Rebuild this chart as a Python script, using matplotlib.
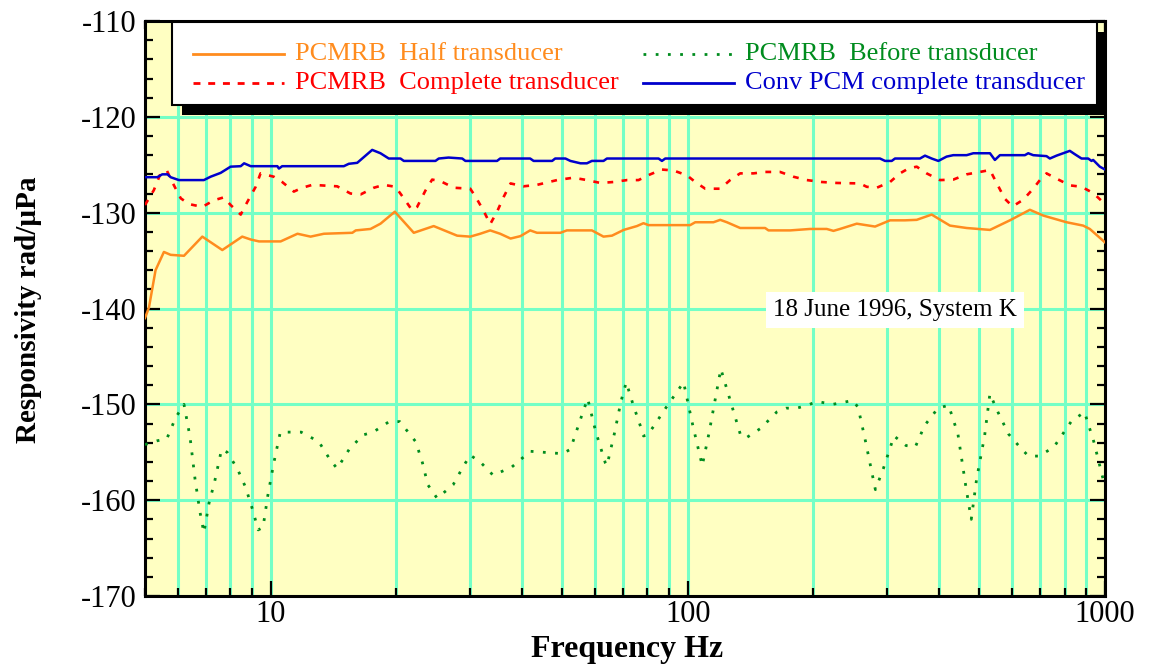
import matplotlib
matplotlib.use('Agg')
import matplotlib.pyplot as plt
from matplotlib.patches import Rectangle
from matplotlib.ticker import FixedLocator, LogLocator, MultipleLocator, NullFormatter

plt.rcParams['font.family'] = ['Liberation Serif', 'DejaVu Serif']
plt.rcParams['axes.unicode_minus'] = False

#PCMRB half transducer (orange, solid)
half_f = [5.0, 5.11, 5.30, 5.55, 5.76, 6.20, 6.86, 7.66, 8.55, 8.96, 9.38, 10.57, 11.6, 12.47, 13.42,
          15.7, 16.0, 17.36, 18.34, 19.85, 22.04, 24.6, 28.0, 30.1, 31.8, 33.6, 35.5, 37.6, 39.7, 41.9,
          43.5, 49.5, 51.3, 58.9, 62.8, 65.8, 70.2, 75.5, 78.3, 80.5, 101.3, 104.2, 115.2, 119.6, 124.1,
          133.5, 153.2, 156.1, 176, 196.4, 215.3, 223.4, 231.7, 254.1, 281.1, 305.3, 331.6, 353.7, 384.2,
          425, 466, 530, 591.6, 660.6, 711, 808.8, 886.5, 919.6, 1000]
half_db = [-141.0, -139.9, -136.0, -134.1, -134.4, -134.5, -132.5, -133.9, -132.5, -132.8, -133.0, -133.0,
           -132.2, -132.5, -132.2, -132.1, -131.85, -131.7, -131.15, -129.9, -132.1, -131.4, -132.4, -132.5,
           -132.2, -131.85, -132.2, -132.7, -132.45, -131.85, -132.1, -132.1, -131.85, -131.85, -132.5,
           -132.4, -131.8, -131.4, -131.1, -131.3, -131.3, -131.0, -131.0, -130.75, -131.0, -131.6, -131.6,
           -131.85, -131.85, -131.7, -131.7, -131.9, -131.7, -131.15, -131.45, -130.8, -130.8, -130.75,
           -130.2, -131.35, -131.6, -131.8, -130.8, -129.7, -130.3, -131.0, -131.35, -131.7, -133.1]

#PCMRB complete transducer (red, dashed)
comp_f = [5.0, 5.25, 5.45, 5.64, 5.81, 6.09, 6.37, 6.86, 7.32, 7.73, 8.02, 8.48, 8.79, 9.21, 9.46, 10.18,
          10.66, 11.37, 11.91, 12.59, 14.44, 15.54, 16.43, 17.68, 18.68, 19.92, 20.86, 21.84, 22.45, 23.5,
          24.39, 25.5, 27.5, 30.1, 31.0, 32.4, 33.6, 34.9, 36.2, 37.6, 40.4, 43.5, 48.6, 53.2, 57.3, 61.7,
          66.4, 71.5, 76.2, 81.3, 86.7, 92.4, 99.5, 104.2, 110.1, 119.6, 126.3, 133.5, 143.7, 153.2, 166.4,
          179.1, 192.9, 209.5, 227.5, 258.7, 268.4, 283.7, 305.3, 322.5, 337.7, 353.7, 373.7, 402.2, 432.8,
          466, 501.4, 530, 549.7, 575.4, 600.4, 636.7, 672.9, 698.1, 724.1, 765.3, 823.6, 878.5, 936.8, 1000]
comp_db = [-129.2, -127.65, -125.9, -125.6, -126.8, -128.5, -129.1, -129.4, -128.7, -128.4, -129.2, -130.2,
           -128.9, -127.3, -125.9, -126.25, -126.8, -127.8, -127.4, -127.1, -127.25, -128.0, -128.1, -127.4,
           -127.1, -127.3, -128.5, -129.75, -129.4, -127.7, -126.55, -126.7, -127.4, -127.5, -128.35, -129.8,
           -131.2, -129.9, -128.35, -126.95, -127.25, -127.1, -126.6, -126.35, -126.6, -126.9, -126.8, -126.6,
           -126.6, -126.0, -125.5, -125.6, -126.1, -126.8, -127.5, -127.5, -126.6, -125.9, -125.9, -125.75,
           -125.75, -126.25, -126.6, -126.8, -126.9, -126.95, -127.3, -127.4, -126.8, -125.9, -125.4, -125.2,
           -125.9, -126.6, -126.55, -126.0, -125.75, -125.55, -126.9, -128.55, -129.35, -128.65, -127.5,
           -126.6, -125.9, -126.45, -127.15, -127.3, -127.95, -129.1]

#PCMRB before transducer (green, dotted)
before_f = [5.0, 5.35, 5.64, 5.92, 6.20, 6.41, 6.59, 6.77, 6.92, 7.12, 7.34, 7.63, 7.87, 8.32, 8.71, 9.04,
            9.34, 9.59, 9.85, 10.18, 10.55, 11.84, 13.05, 13.92, 14.44, 15.43, 16.64, 17.62, 19.24, 20.40,
            22.28, 23.12, 23.82, 25.07, 27.38, 29.03, 30.12, 31.95, 34.15, 37.84, 41.94, 50.03, 52.3, 55.46,
            57.54, 60.12, 63.42, 64.0, 66.65, 69.15, 71.2, 73.9, 76.9, 78.3, 80.1, 83.1, 88.8, 97.7, 102.8,
            108.3, 112.3, 120.0, 127.2, 134.0, 138.0, 149.6, 163.4, 172.0, 182.4, 193.5, 203.8, 222.6, 248.5,
            255.9, 265.9, 281.6, 294.3, 312.1, 333.4, 351.0, 369.6, 397.8, 421.8, 444.1, 464.2, 478.0, 492.3,
            514.5, 529.8, 553.7, 587.2, 632.1, 655.8, 695.6, 754.3, 829.7, 892.9, 940.1, 1000]
before_db = [-154.2, -153.8, -153.6, -151.4, -150.0, -153.4, -157.8, -161.2, -163.4, -160.3, -158.1, -154.7,
             -155.0, -156.7, -158.65, -160.9, -163.1, -162.85, -159.5, -156.1, -152.9, -152.9, -153.9, -155.85,
             -156.7, -154.7, -153.2, -152.9, -151.8, -151.8, -153.9, -156.1, -158.4, -159.8, -158.4, -156.4,
             -155.3, -156.1, -157.4, -156.55, -154.9, -155.15, -154.7, -151.4, -149.4, -152.8, -156.1, -156.4,
             -153.1, -149.7, -147.7, -150.0, -152.2, -153.3, -153.2, -152.2, -150.3, -147.7, -152.2, -156.4,
             -153.1, -146.3, -150.0, -153.3, -153.5, -152.5, -150.8, -150.4, -150.4, -150.1, -149.7, -150.0,
             -149.6, -150.3, -153.6, -158.9, -156.7, -153.3, -154.3, -154.45, -152.2, -150.4, -150.1, -153.1,
             -158.65, -162.0, -157.8, -153.3, -148.9, -150.8, -153.1, -154.7, -155.4, -155.4, -154.45, -151.8,
             -150.8, -153.9, -158.6]

#Conv PCM complete transducer (blue, solid)
conv_f = [5.0, 5.35, 5.50, 5.66, 5.76, 6.03, 6.92, 7.18, 7.59, 8.02, 8.48, 8.64, 8.96, 10.38, 10.47, 10.66,
          14.98, 15.40, 16.13, 17.52, 18.34, 19.2, 20.48, 20.86, 24.84, 25.3, 26.7, 28.8, 29.3, 34.9, 35.5,
          41.9, 42.7, 47.3, 48.1, 50.9, 52.3, 55.3, 57.3, 58.9, 62.8, 64.0, 85.1, 86.7, 88.3, 288.9, 297,
          308.2, 313.8, 360.2, 370.3, 384.2, 398.6, 417.2, 432.8, 466, 483.4, 530, 544.6, 560, 642.7, 654.6,
          672.9, 724.1, 737.6, 765.3, 793.9, 823.6, 846.6, 878.5, 911.3, 928.2, 936.8, 971.8, 1000]
conv_db = [-126.3, -126.3, -126.0, -126.0, -126.3, -126.6, -126.6, -126.25, -125.85, -125.2, -125.15, -124.85,
           -125.15, -125.15, -125.4, -125.15, -125.15, -124.9, -124.8, -123.45, -123.8, -124.35, -124.35,
           -124.6, -124.6, -124.35, -124.25, -124.35, -124.6, -124.6, -124.35, -124.35, -124.6, -124.6,
           -124.35, -124.35, -124.6, -124.85, -124.85, -124.6, -124.6, -124.35, -124.35, -124.6, -124.35,
           -124.35, -124.6, -124.6, -124.35, -124.35, -124.05, -124.35, -124.6, -124.15, -124.0, -124.0,
           -123.8, -123.8, -124.5, -124.0, -124.0, -123.8, -124.0, -124.1, -124.35, -124.05, -123.8, -123.55,
           -123.9, -124.35, -124.35, -124.6, -124.5, -125.2, -125.5]

legend_labels = ['PCMRB  Half transducer', 'PCMRB  Complete transducer',
                 'PCMRB  Before transducer', 'Conv PCM complete transducer']
note_text = '18 June 1996, System K'

c_orange = '#FF8C1E'
c_red = '#FF0000'
c_green = '#008C1E'
c_blue = '#0000CC'
c_grid = '#74FFC6'

fig = plt.figure(figsize=(11.56, 6.67), dpi=100)
ax = fig.add_axes([145/1156, 1 - 596/667, 960/1156, 575/667])
ax.set_facecolor('#FFFFC2')

ax.plot(half_f, half_db, color=c_orange, lw=1.8, zorder=3)
ax.plot(comp_f, comp_db, color=c_red, lw=1.9, linestyle=(0, (2.2, 3.2)), zorder=3)
ax.plot(before_f, before_db, color=c_green, lw=2.0, linestyle=(0, (1, 3.4)), zorder=3)
ax.plot(conv_f, conv_db, color=c_blue, lw=1.8, zorder=3)

ax.set_xscale('log')
ax.set_xlim(5, 1000)
ax.set_ylim(-170, -110)

ax.xaxis.set_major_locator(FixedLocator([10, 100, 1000]))
ax.xaxis.set_major_formatter(plt.FixedFormatter(['10', '100', '1000']))
ax.xaxis.set_minor_locator(LogLocator(base=10, subs=range(2, 10)))
ax.xaxis.set_minor_formatter(NullFormatter())
ax.yaxis.set_major_locator(MultipleLocator(10))
ax.yaxis.set_minor_locator(MultipleLocator(2))

ax.set_axisbelow(True)
ax.grid(True, which='both', axis='x', color=c_grid, lw=2.2)
ax.grid(True, which='major', axis='y', color=c_grid, lw=2.2)

ax.tick_params(which='both', direction='in', top=True, right=True, width=1.6, labelsize=22)
ax.tick_params(which='major', length=11)
ax.tick_params(which='minor', length=6)
ax.tick_params(axis='x', pad=3)
ax.tick_params(axis='y', pad=6)
for s in ax.spines.values():
    s.set_linewidth(2.2)

ax.set_xlabel('Frequency Hz', fontsize=23, fontweight='bold')
ax.set_ylabel('Responsivity rad/\u00b5Pa', fontsize=21, fontweight='bold')
ax.xaxis.set_label_coords(0.502, -0.068)
ax.yaxis.set_label_coords(-0.107, 0.497)

#legend box with shadow, drawn by hand
ax.add_patch(Rectangle((0.0385, 0.8365), 0.9636, 0.1445, transform=ax.transAxes,
                       facecolor='black', edgecolor='none', clip_on=False, zorder=8))
ax.add_patch(Rectangle((0.028, 0.8539), 0.9637, 0.1444, transform=ax.transAxes,
                       facecolor='white', edgecolor='black', lw=1.5, clip_on=False, zorder=9))

entries = [
    (0.050, 0.9426, c_orange, '-', legend_labels[0]),
    (0.050, 0.8922, c_red, (0, (2.5, 2.8)), legend_labels[1]),
    (0.519, 0.9426, c_green, (0, (1, 3.4)), legend_labels[2]),
    (0.519, 0.8922, c_blue, '-', legend_labels[3]),
]
for x0, y0, col, ls, lab in entries:
    ax.plot([x0, x0 + 0.095], [y0, y0], transform=ax.transAxes, color=col, lw=2.0,
            linestyle=ls, clip_on=False, zorder=10)
    ax.text(x0 + 0.106, y0, lab, transform=ax.transAxes, color=col, fontsize=19,
            va='center', ha='left', zorder=10)

ax.text(0.654, 0.497, note_text, transform=ax.transAxes, fontsize=18, va='center', ha='left',
        bbox=dict(facecolor='white', edgecolor='none', pad=5), zorder=6)

plt.savefig('out.png', dpi=100)
